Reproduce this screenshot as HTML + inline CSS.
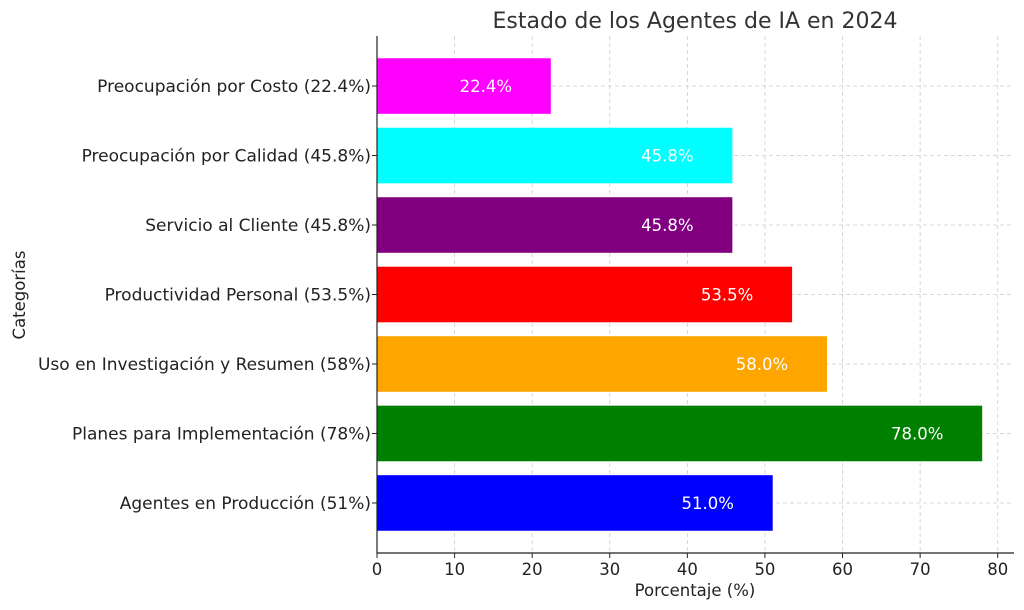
<!DOCTYPE html>
<html><head><meta charset="utf-8">
<style>
html,body{margin:0;padding:0;background:#fff;}
svg{display:block;font-family:"DejaVu Sans","Liberation Sans",sans-serif;}
</style></head>
<body>
<svg id="chart" width="1024" height="610" viewBox="0 0 1024 610" xmlns="http://www.w3.org/2000/svg">
<text x="695" y="28" text-anchor="middle" font-size="22" fill="#333">Estado de los Agentes de IA en 2024</text>
<g id="grid"></g>
<g id="bars"></g>
<g id="axes"></g>
<text x="695" y="596" text-anchor="middle" font-size="16.5" fill="#222">Porcentaje (%)</text>
<text transform="translate(25,295) rotate(-90)" text-anchor="middle" font-size="16.5" fill="#222">Categorías</text>
</svg>
<script>
const categories = ["Agentes en Producción (51%)","Planes para Implementación (78%)","Uso en Investigación y Resumen (58%)","Productividad Personal (53.5%)","Servicio al Cliente (45.8%)","Preocupación por Calidad (45.8%)","Preocupación por Costo (22.4%)"];
const values = [51, 78, 58, 53.5, 45.8, 45.8, 22.4];
const colors = ["#0000ff","#008000","#ffa500","#ff0000","#800080","#00ffff","#ff00ff"];
const xTicks = [0,10,20,30,40,50,60,70,80];

const NS="http://www.w3.org/2000/svg";
const L=377,R=1014,T=36,B=553;
const xMin=0,xMax=82.1,yMin=-0.72,yMax=6.72;
const xs=v=>L+(v-xMin)/(xMax-xMin)*(R-L);
const ys=i=>B-(i-yMin)/(yMax-yMin)*(B-T);
const band=(B-T)/(yMax-yMin);
function mk(tag,attrs,parent){const e=document.createElementNS(NS,tag);for(const k in attrs)e.setAttribute(k,attrs[k]);parent.appendChild(e);return e;}
const grid=document.getElementById('grid'),bars=document.getElementById('bars'),axes=document.getElementById('axes');
xTicks.forEach(t=>{
  const g=mk('line',{x1:xs(t),x2:xs(t),y1:T,y2:B,stroke:'#cccccc','stroke-dasharray':'4,3','stroke-width':0.8},grid);
  
  
  const tk=mk('line',{x1:xs(t),x2:xs(t),y1:B,y2:B+5,stroke:'#222','stroke-width':1},axes);
  
  
  const lb=mk('text',{x:xs(t),y:B+22,'text-anchor':'middle','font-size':16.5,fill:'#222'},axes);
  lb.textContent=t;
  
  
});
categories.forEach((c,i)=>{
  const y=ys(i);
  const g=mk('line',{x1:L,x2:R,y1:y,y2:y,stroke:'#cccccc','stroke-dasharray':'4,3','stroke-width':0.8},grid);
  
  
  const h=band*0.8;
  const r=mk('rect',{x:xs(0),y:y-h/2,width:xs(values[i])-xs(0),height:h,fill:colors[i]},bars);
  
  
  const vl=mk('text',{x:xs(values[i]-5),y:y+6,'text-anchor':'end','font-size':16.5,fill:'#fff'},bars);
  vl.textContent=values[i].toFixed(1)+'%';
  
  
  const tk=mk('line',{x1:L-5,x2:L,y1:y,y2:y,stroke:'#222','stroke-width':1},axes);
  
  
  const lb=mk('text',{x:L-6,y:y+6,'text-anchor':'end','font-size':17,fill:'#222'},axes);
  lb.textContent=c;
  
  
});
const ax=mk('path',{d:`M${L},${T} V${B} H${R}`,fill:'none',stroke:'#222','stroke-width':1.2},axes);


</script>
</body></html>
